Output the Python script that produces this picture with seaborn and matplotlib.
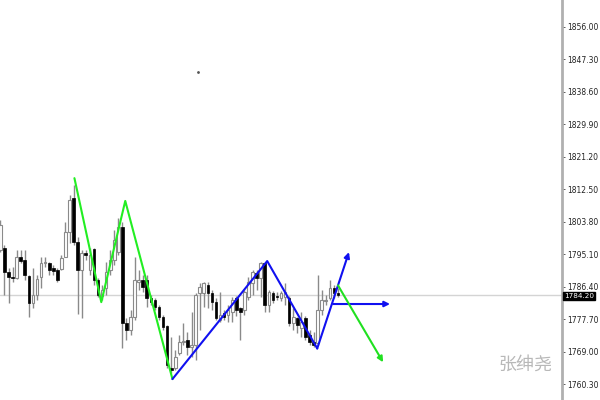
import numpy as np
import seaborn as sns
import matplotlib.pyplot as plt
import matplotlib.transforms as mtransforms

# candle data
opens = [1796.2, 1796.7, 1790.3, 1789.0, 1788.7, 1794.3, 1793.5, 1789.2, 1782.0, 1784.1,
         1789.0, 1792.7, 1792.7, 1791.4, 1790.8, 1791.1, 1794.3, 1801.0, 1810.1, 1798.3,
         1790.8, 1795.4, 1790.8, 1796.5, 1788.2, 1783.9, 1786.0, 1790.8, 1793.5, 1795.7,
         1802.4, 1776.6, 1774.8, 1778.2, 1787.6, 1788.2, 1788.2, 1783.3, 1782.8, 1780.9,
         1778.2, 1775.8, 1764.8, 1764.6, 1768.8, 1771.5, 1772.1, 1770.2, 1770.7, 1784.7,
         1784.7, 1786.8, 1784.7, 1782.3, 1777.4, 1779.3, 1778.8, 1779.6, 1783.3, 1780.7,
         1780.1, 1783.6, 1787.4, 1790.0, 1788.7, 1792.7, 1781.5, 1784.7, 1783.9, 1783.3,
         1783.6, 1783.3, 1776.6, 1778.0, 1775.3, 1778.0, 1773.4, 1771.5, 1771.3, 1780.1,
         1782.5, 1783.3, 1786.0, 1784.7]
highs = [1804.2, 1797.5, 1791.4, 1791.6, 1796.2, 1796.2, 1796.2, 1789.5, 1791.4, 1789.5,
         1794.3, 1794.3, 1793.0, 1792.2, 1791.4, 1794.9, 1803.7, 1810.9, 1813.6, 1799.7,
         1796.2, 1796.2, 1796.7, 1796.7, 1788.7, 1786.8, 1793.0, 1796.2, 1801.6, 1804.8,
         1803.7, 1778.0, 1780.1, 1794.3, 1790.8, 1789.5, 1789.5, 1784.1, 1783.3, 1781.5,
         1778.8, 1776.1, 1772.9, 1769.4, 1773.4, 1776.6, 1774.2, 1779.6, 1784.7, 1787.4,
         1787.6, 1787.6, 1785.5, 1783.3, 1785.0, 1780.1, 1781.5, 1783.6, 1783.9, 1780.9,
         1785.5, 1789.0, 1790.8, 1790.8, 1793.0, 1793.0, 1785.5, 1785.2, 1785.0, 1785.2,
         1787.4, 1783.9, 1780.7, 1778.2, 1779.6, 1778.5, 1774.8, 1774.2, 1789.5, 1785.5,
         1784.1, 1788.2, 1786.8, 1786.0]
lows = [1795.7, 1784.1, 1782.0, 1787.6, 1788.4, 1792.7, 1788.2, 1778.2, 1780.7, 1782.8,
        1786.0, 1791.6, 1789.5, 1789.5, 1787.6, 1790.8, 1794.3, 1798.1, 1797.5, 1779.0,
        1778.0, 1793.5, 1789.5, 1786.8, 1783.6, 1782.8, 1784.1, 1789.5, 1792.2, 1794.9,
        1769.9, 1772.1, 1773.4, 1777.4, 1785.5, 1785.0, 1780.9, 1781.5, 1780.1, 1777.4,
        1774.8, 1764.6, 1763.2, 1764.0, 1768.1, 1770.7, 1768.1, 1767.5, 1766.7, 1774.8,
        1780.9, 1780.7, 1780.1, 1777.4, 1776.9, 1777.4, 1776.9, 1776.9, 1778.5, 1772.1,
        1778.8, 1782.8, 1784.1, 1785.5, 1783.6, 1779.6, 1779.6, 1782.0, 1782.8, 1782.5,
        1781.5, 1775.8, 1774.8, 1774.0, 1772.9, 1772.1, 1770.7, 1770.2, 1770.7, 1778.8,
        1781.5, 1782.8, 1783.3, 1783.6]
closes = [1802.9, 1790.3, 1789.0, 1788.7, 1794.3, 1793.3, 1789.5, 1782.0, 1784.1, 1788.4,
          1792.7, 1793.0, 1790.8, 1790.6, 1788.2, 1794.1, 1801.0, 1809.6, 1798.3, 1790.8,
          1795.4, 1794.9, 1794.9, 1788.2, 1784.1, 1785.5, 1790.3, 1793.5, 1798.9, 1802.4,
          1776.6, 1774.8, 1778.2, 1788.2, 1788.2, 1786.3, 1783.3, 1782.3, 1780.9, 1778.2,
          1775.6, 1765.4, 1764.0, 1767.5, 1771.5, 1771.8, 1770.2, 1770.7, 1784.1, 1786.3,
          1787.4, 1784.7, 1782.3, 1778.0, 1778.8, 1778.2, 1780.1, 1782.8, 1780.1, 1779.6,
          1785.0, 1787.6, 1790.3, 1788.7, 1792.7, 1781.5, 1785.0, 1782.8, 1783.6, 1784.7,
          1785.0, 1776.6, 1778.2, 1776.1, 1776.9, 1772.9, 1771.5, 1770.7, 1780.1, 1782.8,
          1782.8, 1786.0, 1784.7, 1784.2]

# hand-drawn wave lines: (bar index, price)
green_x = [18.2, 24.8, 30.7, 42.3]
green_y = [1815.5, 1782.3, 1809.4, 1761.7]
blue_x = [42.3, 65.6, 77.9]
blue_y = [1761.7, 1793.3, 1769.9]
# arrows: start -> end
arrows = [
    ((77.9, 1769.9), (85.7, 1795.7), "#1010f0"),
    ((81.8, 1781.8), (95.8, 1781.8), "#1010f0"),
    ((83.0, 1786.8), (94.1, 1766.2), "#20e020"),
]

last_price = 1784.20
price_ticks = [1760.30, 1769.00, 1777.70, 1786.40, 1795.10, 1803.80,
               1812.50, 1821.20, 1829.90, 1838.60, 1847.30, 1856.00]

sns.set_theme(style="white")

fig = plt.figure(figsize=(6, 4), dpi=100)
ax = fig.add_axes([0, 0, 562 / 600, 1])

idx = np.arange(len(opens))
o = np.array(opens)
c = np.array(closes)
up = c >= o

ax.vlines(idx, lows, highs, color="#8a8a8a", linewidth=1, zorder=2)
bottoms = np.minimum(o, c)
heights = np.maximum(np.abs(c - o), 0.3)
ax.bar(idx[up], heights[up], bottom=bottoms[up], width=0.65,
       color="white", edgecolor="#8a8a8a", linewidth=0.8, zorder=3)
ax.bar(idx[~up], heights[~up], bottom=bottoms[~up], width=0.65,
       color="black", edgecolor="black", linewidth=0.5, zorder=3)

# current price line
ax.axhline(last_price, color="#d4d4d4", linewidth=1, zorder=1)

sns.lineplot(x=green_x, y=green_y, ax=ax, color="#22ee22", linewidth=1.5,
             sort=False, zorder=4)
sns.lineplot(x=blue_x, y=blue_y, ax=ax, color="#1010f0", linewidth=1.5,
             sort=False, zorder=4)
for (x0, y0), (x1, y1), col in arrows:
    ax.annotate("", xy=(x1, y1), xytext=(x0, y0),
                arrowprops=dict(arrowstyle="-|>", color=col, lw=1.5,
                                mutation_scale=8, shrinkA=0, shrinkB=0),
                zorder=4)

ax.plot([48.6], [1843.9], marker="o", markersize=1, color="#555555")

ax.set_xlim(-0.1, 562 / 4.07)
ax.set_ylim(1756.1, 1863.2)
ax.set_xticks([])
ax.yaxis.tick_right()
ax.set_yticks(price_ticks)
ax.set_yticklabels([f"{t:.2f}" for t in price_ticks])
ax.tick_params(axis="y", direction="out", length=2, width=0.6, color="#444444",
               labelsize=5.5, labelcolor="#222222", pad=2)
for side in ["top", "left", "bottom"]:
    ax.spines[side].set_visible(False)
ax.spines["right"].set_color("#b0b0b0")
ax.spines["right"].set_linewidth(2)

trans = mtransforms.blended_transform_factory(ax.transAxes, ax.transData)
ax.text(1.004, last_price - 0.3, f"{last_price:.2f}", transform=trans, fontsize=5.2,
        color="white", va="center", ha="left",
        bbox=dict(boxstyle="square,pad=0.12", facecolor="black", edgecolor="black"))

fig.text(0.876, 0.088, "张绅尧", fontsize=13, color="#b8b8b8", ha="center",
         va="center", family=["Noto Sans CJK SC", "DejaVu Sans"])

fig.savefig("out.png", dpi=100)
